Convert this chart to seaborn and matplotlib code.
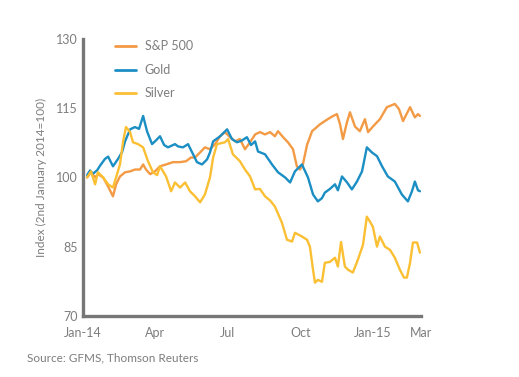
import pandas as pd
import seaborn as sns
import matplotlib.pyplot as plt

# x positions are in months since 1 Jan 2014, values are index (2 Jan 2014 = 100)
sp_month = [0.17, 0.33, 0.50, 0.62, 0.83, 1.04, 1.24, 1.37, 1.53, 1.74, 1.95, 2.15, 2.36, 2.49,
            2.61, 2.78, 2.98, 3.19, 3.44, 3.73, 4.02, 4.27, 4.47, 4.64, 4.85, 5.05, 5.26, 5.47,
            5.68, 5.88, 6.09, 6.30, 6.50, 6.71, 6.92, 7.13, 7.33, 7.54, 7.75, 7.95, 8.08, 8.29,
            8.49, 8.70, 8.86, 8.99, 9.11, 9.28, 9.49, 9.82, 10.11, 10.36, 10.52, 10.65, 10.77,
            10.94, 11.06, 11.27, 11.47, 11.68, 11.81, 12.01, 12.30, 12.59, 12.92, 13.09, 13.26,
            13.55, 13.75, 13.88, 13.96]
sp_value = [100.0, 101.1, 100.0, 100.7, 100.0, 98.0, 95.9, 98.5, 100.2, 101.1, 101.3, 101.7, 101.7,
            102.8, 101.7, 100.7, 101.3, 102.4, 102.8, 103.3, 103.3, 103.5, 104.3, 104.3, 105.4,
            106.5, 106.1, 107.2, 108.9, 109.8, 108.7, 107.8, 108.3, 106.1, 107.6, 109.3, 109.8,
            109.3, 109.8, 108.9, 110.0, 108.7, 107.6, 106.1, 102.4, 101.7, 102.8, 107.0, 110.0,
            111.5, 112.5, 113.3, 113.7, 111.5, 108.3, 112.0, 114.1, 111.0, 110.0, 112.6, 109.8,
            111.0, 112.6, 115.2, 115.9, 114.8, 112.2, 115.2, 113.0, 113.7, 113.3]

gold_month = [0.17, 0.29, 0.41, 0.58, 0.70, 0.91, 1.04, 1.24, 1.45, 1.62, 1.74, 1.95, 2.15, 2.32,
              2.49, 2.65, 2.86, 3.02, 3.19, 3.36, 3.52, 3.60, 3.81, 3.94, 4.14, 4.35, 4.56, 4.72,
              4.93, 5.14, 5.26, 5.39, 5.68, 5.97, 6.17, 6.38, 6.59, 6.79, 6.96, 7.13, 7.25, 7.54,
              7.83, 8.08, 8.37, 8.58, 8.78, 9.07, 9.32, 9.53, 9.73, 9.90, 10.02, 10.23, 10.44,
              10.56, 10.73, 10.94, 11.14, 11.35, 11.56, 11.76, 11.97, 12.18, 12.39, 12.63, 12.92,
              13.21, 13.46, 13.63, 13.75, 13.88, 13.96]
gold_value = [100.5, 101.5, 100.8, 101.5, 102.5, 104.0, 104.5, 102.4, 104.0, 105.5, 107.8, 110.4,
              110.9, 110.5, 113.3, 110.0, 107.2, 108.0, 108.9, 107.0, 106.5, 106.7, 107.2, 106.7,
              106.5, 107.2, 105.0, 103.3, 102.8, 103.9, 105.4, 107.8, 108.9, 110.4, 108.3, 107.6,
              108.0, 108.7, 107.0, 107.8, 105.6, 105.0, 102.8, 101.1, 100.0, 98.9, 101.3, 102.8,
              100.0, 96.3, 94.8, 95.5, 96.7, 97.5, 98.5, 97.2, 100.2, 98.9, 97.4, 99.1, 101.3,
              106.5, 105.4, 104.6, 102.4, 100.2, 99.1, 96.3, 94.8, 97.0, 99.1, 97.2, 97.0]

silver_month = [0.17, 0.33, 0.50, 0.62, 0.83, 1.04, 1.24, 1.37, 1.53, 1.66, 1.78, 1.95, 2.07, 2.28,
                2.49, 2.69, 2.90, 3.07, 3.19, 3.44, 3.65, 3.81, 4.02, 4.23, 4.43, 4.64, 4.85, 5.05,
                5.26, 5.39, 5.55, 5.88, 6.01, 6.21, 6.50, 6.71, 6.92, 7.13, 7.33, 7.54, 7.75, 7.95,
                8.24, 8.45, 8.66, 8.78, 9.07, 9.28, 9.40, 9.53, 9.61, 9.73, 9.90, 10.02, 10.23,
                10.44, 10.56, 10.69, 10.85, 10.98, 11.18, 11.39, 11.60, 11.76, 11.89, 12.01, 12.18,
                12.30, 12.51, 12.72, 12.92, 13.13, 13.30, 13.42, 13.55, 13.67, 13.84, 13.96]
silver_value = [100.0, 101.3, 98.5, 101.1, 100.0, 98.5, 97.8, 100.0, 102.8, 107.8, 110.9, 109.8,
                107.6, 107.2, 106.5, 103.5, 101.1, 100.5, 102.4, 100.2, 97.0, 98.9, 97.8, 98.9,
                97.0, 95.9, 94.6, 96.3, 100.0, 104.3, 107.2, 107.6, 108.3, 105.0, 103.5, 101.7,
                100.2, 97.4, 97.5, 95.9, 95.0, 93.7, 90.2, 86.5, 86.1, 88.0, 87.2, 86.5, 85.0, 80.0,
                77.2, 77.8, 77.4, 81.5, 81.7, 82.6, 80.7, 86.0, 80.7, 80.0, 79.4, 82.2, 85.4, 91.5,
                90.4, 89.3, 85.0, 87.2, 85.0, 84.3, 82.6, 80.0, 78.3, 78.3, 81.5, 85.9, 85.9, 83.7]

tick_months = [0, 3, 6, 9, 12, 14]
tick_labels = ['Jan-14', 'Apr', 'Jul', 'Oct', 'Jan-15', 'Mar']
y_ticks = [70, 85, 100, 115, 130]

series = ['S&P 500', 'Gold', 'Silver']
colors = ['#f39a45', '#1b8ec4', '#fbbf33']

df = pd.concat([
    pd.DataFrame({'month': sp_month, 'value': sp_value, 'series': 'S&P 500'}),
    pd.DataFrame({'month': gold_month, 'value': gold_value, 'series': 'Gold'}),
    pd.DataFrame({'month': silver_month, 'value': silver_value, 'series': 'Silver'}),
])

sns.set_style('white')
plt.rcParams['font.family'] = ['Lato', 'DejaVu Sans']
grey = '#777777'
text_grey = '#7d7d7d'

fig = plt.figure(figsize=(5.19, 3.77), dpi=100)
ax = fig.add_axes([0.160, 0.162, 0.651, 0.735])

sns.lineplot(data=df, x='month', y='value', hue='series', hue_order=series,
             palette=dict(zip(series, colors)), linewidth=1.7, ax=ax, estimator=None, sort=False)

ax.set_xlim(0, 14)
ax.set_ylim(70, 130)
ax.set_xticks(tick_months)
ax.set_xticklabels(tick_labels)
ax.set_yticks(y_ticks)
ax.set_xlabel('')
ax.set_ylabel('Index (2nd January 2014=100)', fontsize=8.5, color=text_grey, labelpad=6)

sns.despine(ax=ax)
for side in ['left', 'bottom']:
    ax.spines[side].set_color(grey)
    ax.spines[side].set_linewidth(2.4)
ax.tick_params(axis='y', direction='in', length=6, width=2.4, color=grey,
               labelsize=9, labelcolor=text_grey, pad=4)
ax.tick_params(axis='x', direction='out', length=5, width=2.4, color=grey,
               labelsize=9, labelcolor=text_grey, pad=3)

ax.legend(loc='upper left', bbox_to_anchor=(0.06, 1.035), frameon=False, fontsize=9,
          handlelength=1.7, handletextpad=0.7, labelspacing=0.92, labelcolor=text_grey)
for line in ax.get_legend().get_lines():
    line.set_linewidth(2)

fig.text(0.052, 0.042, 'Source: GFMS, Thomson Reuters', fontsize=8.5, color=text_grey)

fig.savefig('out.png', dpi=100, facecolor='white')
